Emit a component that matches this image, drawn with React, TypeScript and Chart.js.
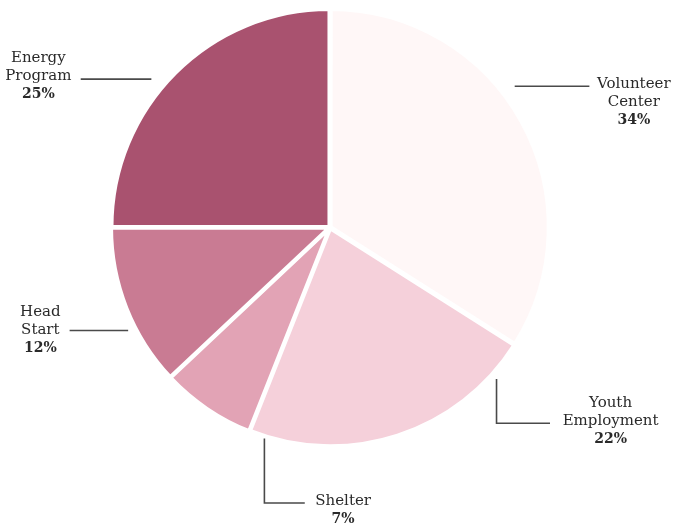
import React, { useEffect, useRef } from "react";
import { Chart, registerables } from "chart.js";

Chart.register(...registerables);

const categories = ["Volunteer Center", "Youth Employment", "Shelter", "Head Start", "Energy Program"];
const labelLines = [["Volunteer", "Center"], ["Youth", "Employment"], ["Shelter"], ["Head", "Start"], ["Energy", "Program"]];
const shares = [34, 22, 7, 12, 25];
const sliceColors = ["#fff7f7", "#f5d0da", "#e2a3b5", "#c97b93", "#a9526f"];

// label layout, offsets in px relative to pie center for a 216px radius
const leaderPaths: number[][][] = [
  [[183, -140], [257, -140]],
  [[165, 150], [165, 194], [218, 194]],
  [[-65, 209], [-65, 273], [-25, 273]],
  [[-258, 102], [-200, 102]],
  [[-247, -147], [-177, -147]],
];
const textAnchors: number[][] = [
  [301, -138],
  [278, 178],
  [13, 275],
  [-287, 88],
  [-289, -164],
];

const labelPlugin = {
  id: "pieLabels",
  afterDatasetsDraw(chart: any) {
    const meta = chart.getDatasetMeta(0);
    const arc0 = meta.data[0];
    if (!arc0) return;
    const cx = arc0.x;
    const cy = arc0.y;
    const s = arc0.outerRadius / 216;
    const ctx = chart.ctx;
    ctx.save();
    ctx.strokeStyle = "#4a4a4a";
    ctx.lineWidth = 1.6;
    leaderPaths.forEach((path) => {
      ctx.beginPath();
      path.forEach(([dx, dy], i) => {
        const x = cx + dx * s;
        const y = cy + dy * s;
        if (i === 0) ctx.moveTo(x, y);
        else ctx.lineTo(x, y);
      });
      ctx.stroke();
    });
    ctx.fillStyle = "#2a2a2a";
    ctx.textAlign = "center";
    ctx.textBaseline = "alphabetic";
    const lh = 18;
    categories.forEach((_, i) => {
      const [dx, dy] = textAnchors[i];
      const x = cx + dx * s;
      let y = cy + dy * s;
      ctx.font = "15px 'DejaVu Serif', serif";
      labelLines[i].forEach((ln) => {
        ctx.fillText(ln, x, y);
        y += lh;
      });
      ctx.font = "bold 14px 'DejaVu Serif', serif";
      ctx.fillText(`${shares[i]}%`, x, y);
    });
    ctx.restore();
  },
};

export default function App() {
  const ref = useRef<HTMLCanvasElement | null>(null);
  useEffect(() => {
    if (!ref.current) return;
    const chart = new Chart(ref.current, {
      type: "pie",
      data: {
        labels: categories,
        datasets: [
          {
            data: shares,
            backgroundColor: sliceColors,
            borderColor: "#ffffff",
            borderWidth: 4,
            offset: 3,
          },
        ],
      },
      options: {
        responsive: false,
        animation: false,
        layout: { padding: { top: 6, bottom: 76, left: 0, right: 13 } },
        plugins: { legend: { display: false }, tooltip: { enabled: false } },
      },
      plugins: [labelPlugin],
    });
    return () => chart.destroy();
  }, []);
  return (
    <div style={{ position: "fixed", left: 0, top: 0, width: 673, height: 525, background: "#ffffff" }}>
      <canvas ref={ref} width={673} height={525} />
    </div>
  );
}
